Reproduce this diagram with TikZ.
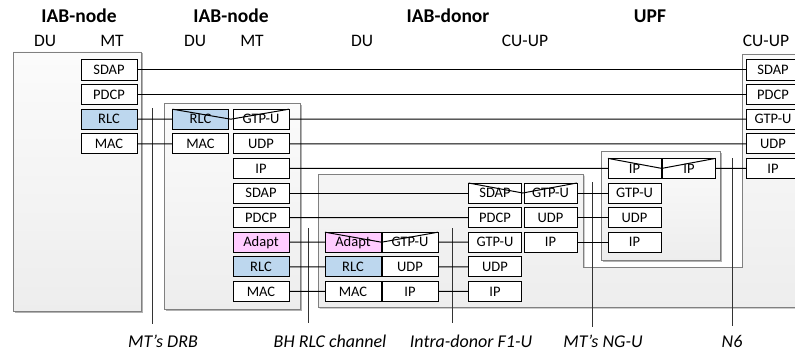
\documentclass[tikz,border=0pt]{standalone}
\usepackage{fontspec}
\setmainfont{Carlito}
\usetikzlibrary{positioning, calc}
\definecolor{rlcblue}{RGB}{189,215,238}
\definecolor{adaptpink}{RGB}{255,204,255}
\newcommand{\protofont}{\fontsize{14.5}{16}\selectfont}
\newcommand{\headfont}{\fontsize{19.5}{22}\selectfont\bfseries}
\newcommand{\partfont}{\fontsize{17.5}{20}\selectfont}
\newcommand{\tagfont}{\fontsize{18}{21}\selectfont\itshape}

\begin{document}
\begin{tikzpicture}[
  x=1pt, y=-1pt,
  proto/.style={draw, fill=white, line width=1pt, minimum width=56pt, minimum height=20pt, inner sep=0pt, outer sep=0pt, text height=9.5pt, text depth=0.3pt, font=\protofont},
  protos/.style={proto, minimum width=53pt},
  rlc/.style={fill=rlcblue},
  adapt/.style={fill=adaptpink},
  enclosure/.style={draw=black!50, line width=0.8pt, top color=gray!3, bottom color=gray!14},
  dropshade/.style={fill=black!30},
  link/.style={-, line width=1pt},
  iface/.style={-, line width=1pt, black!80},
  head/.style={anchor=base, font=\headfont},
  part/.style={anchor=base, font=\partfont},
  tag/.style={anchor=base, font=\tagfont}
]
\useasboundingbox (0,0) rectangle (795,353);
\clip (0,0) rectangle (795,353);

% frames
\fill[dropshade, xshift=1.5pt, yshift=-1.5pt] (13,52) rectangle (141,311);
\draw[enclosure] (13,52) rectangle (141,311);
\fill[dropshade, xshift=1.5pt, yshift=-1.5pt] (164,103) rectangle (300,309);
\draw[enclosure] (164,103) rectangle (300,309);
\fill[dropshade, xshift=1.5pt, yshift=-1.5pt] (318,174) -- (583,174) -- (583,267) -- (742,267) -- (742,54) -- (805,54) -- (805,307) -- (318,307) -- cycle;
\draw[enclosure] (318,174) -- (583,174) -- (583,267) -- (742,267) -- (742,54) -- (805,54) -- (805,307) -- (318,307) -- cycle;
\fill[dropshade, xshift=1.5pt, yshift=-1.5pt] (601,151) rectangle (720,260);
\draw[enclosure] (601,151) rectangle (720,260);

% headings
\node[head] (hnode1) at (79,23) {IAB-node};
\node[head] (hnode2) at (231,23) {IAB-node};
\node[head] (hdonor) at (448,23) {IAB-donor};
\node[head] (hupf) at (650,23) {UPF};
\node[part] (du1) at (45,47) {DU};
\node[part] (mt1) at (112,47) {MT};
\node[part] (du2) at (195,47) {DU};
\node[part] (mt2) at (252,47) {MT};
\node[part] (du3) at (362,47) {DU};
\node[part] (cu3) at (525,47) {CU-UP};
\node[part] (cu4) at (766,47) {CU-UP};

% interfaces
\coordinate (drbtop) at (152,108);
\coordinate (drbend) at (152,324);
\coordinate (bhtop) at (308,228);
\coordinate (bhend) at (308,323);
\coordinate (f1top) at (452,228);
\coordinate (f1end) at (452,323);
\coordinate (ngtop) at (592,182);
\coordinate (ngend) at (592,327);
\coordinate (n6top) at (732,158);
\coordinate (n6end) at (732,326);
\draw[iface] (drbtop) -- (drbend);
\draw[iface] (bhtop) -- (bhend);
\draw[iface] (f1top) -- (f1end);
\draw[iface] (ngtop) -- (ngend);
\draw[iface] (n6top) -- (n6end);

\node[tag] (drblbl) at (163,347) {MT’s DRB};
\node[tag] (bhlbl) at (330,347) {BH RLC channel};
\node[tag] (f1lbl) at (471,347) {Intra-donor F1-U};
\node[tag] (nglbl) at (603,347) {MT’s NG-U};
\node[tag] (n6lbl) at (732,347) {N6};

% first IAB-node, MT
\node[proto] (n1sdap) at (109,70) {SDAP};
\node[proto, below=4.6pt of n1sdap] (n1pdcp) {PDCP};
\node[proto, rlc, below=4.6pt of n1pdcp] (n1rlc) {RLC};
\node[proto, below=4.6pt of n1rlc] (n1mac) {MAC};

% second IAB-node, DU
\node[proto, rlc] (n2durlc) at (200.5,119.2) {RLC};
\node[proto, below=4.6pt of n2durlc] (n2dumac) {MAC};

% second IAB-node, MT
\node[proto] (n2gtp) at (261,119.2) {GTP-U};
\node[proto, below=4.6pt of n2gtp] (n2udp) {UDP};
\node[proto, below=4.6pt of n2udp] (n2ip) {IP};
\node[proto, below=4.6pt of n2ip] (n2sdap) {SDAP};
\node[proto, below=4.6pt of n2sdap] (n2pdcp) {PDCP};
\node[proto, adapt, below=4.6pt of n2pdcp] (n2adapt) {Adapt};
\node[proto, rlc, below=4.6pt of n2adapt] (n2rlc) {RLC};
\node[proto, below=4.6pt of n2rlc] (n2mac) {MAC};

% donor DU
\node[proto, adapt] (duadapt) at (353,242.2) {Adapt};
\node[proto, rlc, below=4.6pt of duadapt] (durlc) {RLC};
\node[proto, below=4.6pt of durlc] (dumac) {MAC};
\node[proto] (dugtp) at (410,242.2) {GTP-U};
\node[proto, below=4.6pt of dugtp] (duudp) {UDP};
\node[proto, below=4.6pt of duudp] (duip) {IP};

% donor CU-UP
\node[protos] (cusdap) at (495,193) {SDAP};
\node[protos, below=4.6pt of cusdap] (cupdcp) {PDCP};
\node[protos, below=4.6pt of cupdcp] (cugtp) {GTP-U};
\node[protos, below=4.6pt of cugtp] (cuudp) {UDP};
\node[protos, below=4.6pt of cuudp] (cuip) {IP};
\node[protos] (cungtp) at (550.5,193) {GTP-U};
\node[protos, below=4.6pt of cungtp] (cungudp) {UDP};
\node[protos, below=4.6pt of cungudp] (cungip) {IP};

% UPF
\node[protos] (upfip) at (634.5,168.4) {IP};
\node[protos, below=4.6pt of upfip] (upfgtp) {GTP-U};
\node[protos, below=4.6pt of upfgtp] (upfudp) {UDP};
\node[protos, below=4.6pt of upfudp] (upfipb) {IP};
\node[protos] (upfout) at (689,168.4) {IP};

% far CU-UP
\node[protos] (rsdap) at (773,70) {SDAP};
\node[protos, below=4.6pt of rsdap] (rpdcp) {PDCP};
\node[protos, below=4.6pt of rpdcp] (rgtp) {GTP-U};
\node[protos, below=4.6pt of rgtp] (rudp) {UDP};
\node[protos, below=4.6pt of rudp] (rip) {IP};

% peer links
\draw[link] (n1sdap.east) -- (rsdap.west);
\draw[link] (n1pdcp.east) -- (rpdcp.west);
\draw[link] (n1rlc.east) -- (n2durlc.west);
\draw[link] (n2gtp.east) -- (rgtp.west);
\draw[link] (n1mac.east) -- (n2dumac.west);
\draw[link] (n2udp.east) -- (rudp.west);
\draw[link] (n2ip.east) -- (upfip.west);
\draw[link] (upfout.east) -- (rip.west);
\draw[link] (n2sdap.east) -- (cusdap.west);
\draw[link] (cungtp.east) -- (upfgtp.west);
\draw[link] (n2pdcp.east) -- (cupdcp.west);
\draw[link] (cungudp.east) -- (upfudp.west);
\draw[link] (n2adapt.east) -- (duadapt.west);
\draw[link] (dugtp.east) -- (cugtp.west);
\draw[link] (cungip.east) -- (upfipb.west);
\draw[link] (n2rlc.east) -- (durlc.west);
\draw[link] (duudp.east) -- (cuudp.west);
\draw[link] (n2mac.east) -- (dumac.west);
\draw[link] (duip.east) -- (cuip.west);

% relay marks
\draw[link] (n2durlc.north west) -- ($(n2durlc.east)!.5!(n2gtp.west)$) -- (n2gtp.north east);
\draw[link] (duadapt.north west) -- ($(duadapt.east)!.5!(dugtp.west)$) -- (dugtp.north east);
\draw[link] (cusdap.north west) -- ($(cusdap.east)!.5!(cungtp.west)$) -- (cungtp.north east);
\draw[link] (upfip.north west) -- ($(upfip.east)!.5!(upfout.west)$) -- (upfout.north east);
\end{tikzpicture}
\end{document}
